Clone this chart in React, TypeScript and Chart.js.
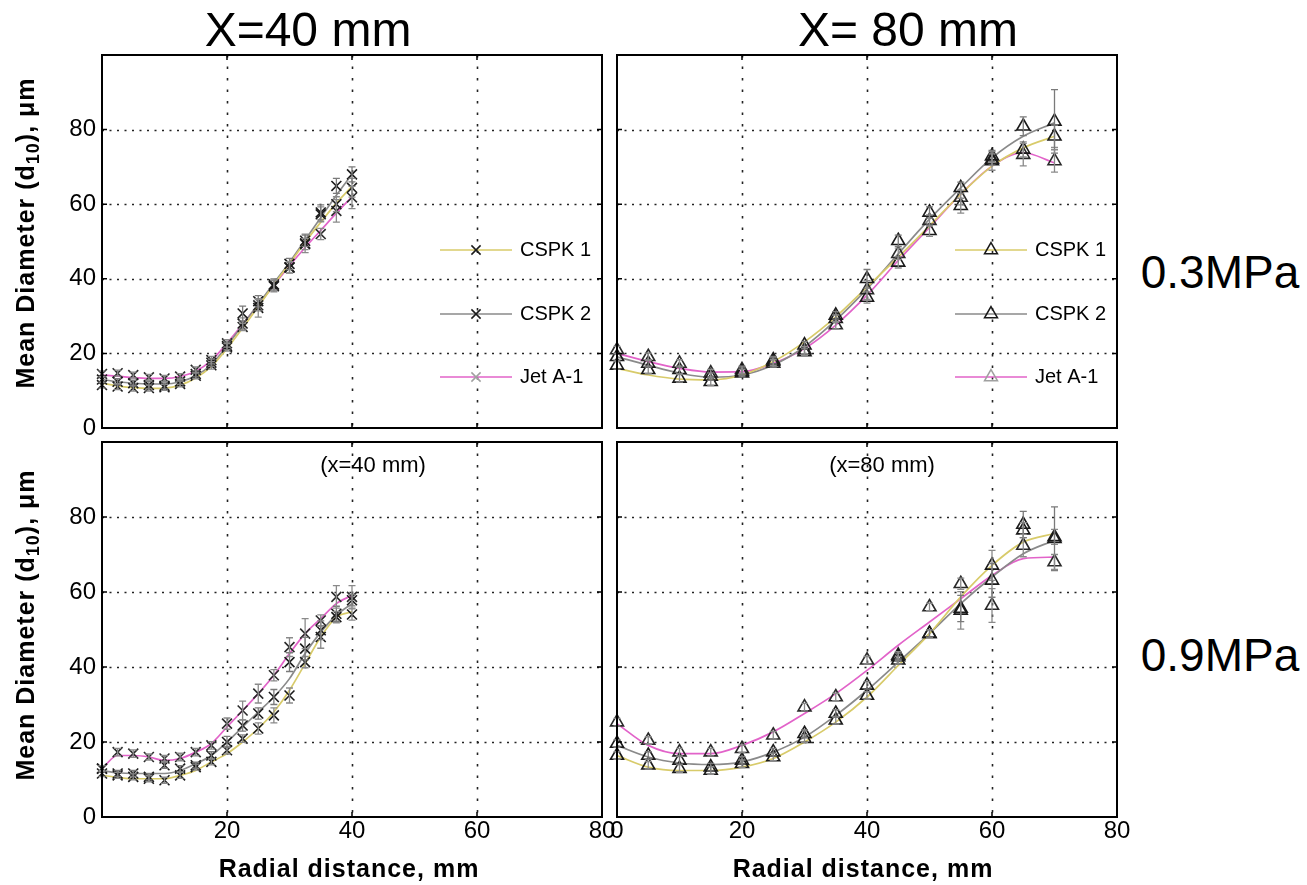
import React, { useEffect, useRef } from "react";
import { Chart, registerables } from "chart.js";
Chart.register(...registerables);

const FONT = '"Liberation Sans", Arial, Helvetica, sans-serif';

// ---------- data ----------
const radial40 = [0, 2.5, 5, 7.5, 10, 12.5, 15, 17.5, 20, 22.5, 25, 27.5, 30, 32.5, 35, 37.5, 40];
const radial80 = [0, 5, 10, 15, 20, 25, 30, 35, 40, 45, 50, 55, 60, 65, 70];
const xTickValues = [0, 20, 40, 60, 80];
const yTickValues = [0, 20, 40, 60, 80, 100];
const seriesNames = ["CSPK 1", "CSPK 2", "Jet A-1"];

// X = 40 mm, 0.3 MPa
const tlFitCspk1 = [12.0, 11.3, 10.8, 10.6, 10.7, 11.5, 13.4, 16.5, 21.3, 26.8, 32.6, 38.4, 44.1, 49.8, 55.2, 60.3, 64.8];
const tlFitCspk2 = [13.0, 12.4, 12.0, 11.8, 11.8, 12.4, 14.0, 17.0, 22.0, 27.6, 33.2, 38.8, 44.4, 50.4, 56.4, 62.4, 68.0];
const tlFitJet = [14.2, 13.9, 13.5, 13.3, 13.3, 13.8, 15.2, 18.1, 22.7, 27.8, 33.0, 38.3, 43.5, 48.4, 53.0, 57.6, 62.0];
const tlCspk1 = [11.5, 11.1, 10.7, 10.7, 10.9, 11.8, 14.0, 16.8, 21.6, 28.0, 32.2, 38.0, 43.0, 49.5, 57.3, 60.0, 64.4];
const tlCspk2 = [13.0, 12.4, 12.0, 11.5, 11.3, 12.5, 14.5, 17.5, 22.0, 30.7, 34.0, 38.5, 44.0, 50.2, 57.8, 64.9, 68.0];
const tlJet = [14.5, 14.7, 14.2, 13.6, 13.3, 13.8, 15.6, 18.2, 22.7, 27.1, 32.9, 38.2, 43.1, 49.3, 52.0, 58.2, 61.8];
const tlErrCspk1 = [0.8, 0.8, 0.8, 0.8, 0.8, 0.8, 0.8, 1, 1, 1.5, 2.5, 1.5, 1.5, 2.5, 2, 2, 2.5];
const tlErrCspk2 = [0.8, 0.8, 0.8, 1, 0.8, 0.8, 0.8, 1, 1, 2, 1.5, 1.5, 1.5, 1.5, 2, 2, 2];
const tlErrJet = [0.8, 0.8, 0.8, 0.8, 0.8, 0.8, 0.8, 1, 1, 1, 1.5, 1.5, 1.5, 1.5, 1.5, 3, 3];

// X = 80 mm, 0.3 MPa
const trFitCspk1 = [16.0, 14.2, 13.1, 12.9, 14.2, 17.8, 23.1, 29.8, 37.8, 45.8, 54.2, 62.7, 70.2, 75.1, 78.2];
const trFitCspk2 = [19.1, 16.8, 14.7, 13.6, 14.2, 16.9, 21.8, 28.9, 37.3, 46.7, 56.0, 64.4, 72.4, 78.2, 81.8];
const trFitJet = [20.0, 17.8, 16.0, 15.0, 15.1, 17.3, 21.3, 27.6, 35.6, 44.9, 53.8, 62.7, 70.2, 73.8, 71.1];
const trCspk1 = [16.8, 15.6, 13.3, 12.4, 14.7, 17.8, 20.4, 29.3, 35.0, 44.4, 52.9, 59.6, 71.6, 74.7, 78.2];
const trCspk2 = [19.1, 17.3, 15.6, 13.8, 15.1, 18.2, 22.2, 30.2, 40.0, 50.2, 57.8, 64.4, 72.9, 80.9, 82.2];
const trJet = [20.9, 19.1, 17.3, 14.7, 15.6, 17.3, 20.9, 27.6, 37.0, 46.7, 55.6, 61.8, 72.0, 73.3, 71.6];
const trErrCspk1 = [1, 1, 1, 1, 1, 1, 1, 1, 1.5, 1.5, 1.5, 2, 2.5, 2, 3];
const trErrCspk2 = [1, 1, 1, 1, 1, 1, 1, 1, 2.5, 1.5, 1.5, 1.5, 1.5, 2.5, 8.5];
const trErrJet = [1, 1, 1, 1, 1, 1, 1, 1, 2.5, 1.5, 1.5, 2, 1.5, 3, 3];

// X = 40 mm, 0.9 MPa
const blFitCspk1 = [11.1, 10.6, 10.2, 10.2, 10.2, 11.1, 12.4, 14.7, 16.9, 20.0, 23.6, 28.0, 33.8, 40.9, 48.0, 53.3, 54.7];
const blFitCspk2 = [12.4, 11.8, 11.6, 11.6, 11.6, 12.4, 14.2, 16.4, 20.0, 24.0, 28.0, 32.0, 36.9, 43.6, 49.3, 53.8, 56.9];
const blFitJet = [12.9, 16.4, 16.4, 16.0, 15.1, 15.6, 17.3, 19.6, 24.0, 28.4, 32.9, 37.8, 43.6, 48.9, 52.9, 56.9, 59.1];
const blCspk1 = [11.6, 11.1, 10.7, 10.2, 9.8, 11.1, 13.3, 14.7, 17.8, 20.9, 23.6, 27.1, 32.4, 41.3, 48.0, 53.3, 54.0];
const blCspk2 = [12.9, 11.6, 11.6, 10.7, 13.8, 12.9, 13.8, 16.4, 20.0, 24.4, 27.6, 32.0, 41.3, 44.9, 49.8, 54.2, 57.8];
const blJet = [12.9, 17.3, 16.9, 16.0, 15.6, 16.0, 17.3, 19.1, 24.9, 28.4, 32.9, 37.8, 45.3, 48.9, 52.4, 58.7, 58.7];
const blErrCspk1 = [0.8, 0.8, 0.8, 0.8, 0.8, 0.8, 0.8, 0.8, 1, 1, 1.5, 2, 2, 1.5, 3, 1.5, 1.5];
const blErrCspk2 = [0.8, 0.8, 0.8, 0.8, 0.8, 0.8, 0.8, 1, 1.5, 1.5, 1.5, 2, 2.5, 3, 2.5, 2, 1.5];
const blErrJet = [0.8, 1, 1, 0.8, 0.8, 1, 1, 1, 1.5, 2.5, 2.5, 1.5, 2.5, 4, 1.5, 3, 3];

// X = 80 mm, 0.9 MPa
const brFitCspk1 = [16.4, 13.3, 12.4, 12.4, 13.3, 15.6, 20.0, 25.3, 32.0, 40.4, 48.9, 58.7, 67.1, 73.3, 75.6];
const brFitCspk2 = [19.1, 16.0, 14.4, 14.0, 14.7, 17.3, 21.3, 27.1, 33.8, 41.3, 48.9, 56.9, 64.0, 70.2, 73.8];
const brFitJet = [24.9, 19.1, 16.9, 16.9, 19.1, 22.7, 27.6, 32.9, 39.1, 45.8, 52.0, 58.2, 64.4, 68.9, 69.3];
const brCspk1 = [16.4, 13.8, 12.9, 12.4, 14.2, 16.0, 20.9, 25.8, 32.4, 41.8, 48.9, 55.1, 67.1, 76.5, 74.7];
const brCspk2 = [19.6, 16.4, 15.1, 13.3, 15.1, 17.3, 22.2, 27.6, 35.1, 42.7, 48.9, 55.6, 63.1, 78.0, 74.2];
const brJet = [25.3, 20.4, 17.3, 17.3, 18.2, 21.8, 29.3, 32.0, 41.8, 43.1, 56.0, 62.2, 56.4, 72.4, 68.0];
const brErrCspk1 = [1, 1, 1, 1, 1, 1, 1, 1, 1, 1, 1, 5, 4, 2, 2];
const brErrCspk2 = [1, 1, 1, 1, 1, 1, 1, 1, 1, 1, 1, 3.5, 4.5, 3.5, 8.5];
const brErrJet = [1, 1, 1, 1, 1, 1, 1, 1, 1, 1, 1, 1.5, 4.5, 3, 2];

// ---------- styles ----------
const lineColors = ["#d8cb6a", "#8a8a8a", "#e263c9"];
const markerColors = ["#1a1a1a", "#1a1a1a", "#2a2a2a"];
const legendMarkerColors = ["#1a1a1a", "#1a1a1a", "#a0a0a0"];
const errorColors = ["#8a8a8a", "#7a7a7a", "#8a8a8a"];

const gridPlugin = {
  id: "dottedGrid",
  beforeDatasetsDraw(chart: any) {
    const { ctx, chartArea: a, scales } = chart;
    ctx.save();
    ctx.strokeStyle = "#222";
    ctx.lineWidth = 1.6;
    const xs = scales.x;
    ctx.setLineDash([2.5, 9]);
    xs.ticks.forEach((t: any) => {
      if (t.value <= xs.min || t.value >= xs.max) return;
      const px = Math.round(xs.getPixelForValue(t.value)) + 0.5;
      ctx.beginPath();
      ctx.moveTo(px, a.top);
      ctx.lineTo(px, a.bottom);
      ctx.stroke();
    });
    const ys = scales.y;
    ctx.setLineDash([2, 5.5]);
    ys.ticks.forEach((t: any) => {
      if (t.value <= ys.min || t.value >= ys.max) return;
      const py = Math.round(ys.getPixelForValue(t.value)) + 0.5;
      ctx.beginPath();
      ctx.moveTo(a.left, py);
      ctx.lineTo(a.right, py);
      ctx.stroke();
    });
    ctx.restore();
  },
};

const errorBarPlugin = {
  id: "errorBars",
  afterDatasetsDraw(chart: any) {
    const { ctx, scales } = chart;
    chart.data.datasets.forEach((ds: any) => {
      if (!ds.errors) return;
      ctx.save();
      ctx.strokeStyle = ds.errorColor;
      ctx.lineWidth = 1.3;
      ds.data.forEach((p: any, j: number) => {
        const e = ds.errors[j];
        if (!e) return;
        const px = scales.x.getPixelForValue(p.x);
        const y1 = scales.y.getPixelForValue(p.y - e);
        const y2 = scales.y.getPixelForValue(p.y + e);
        ctx.beginPath();
        ctx.moveTo(px, y1);
        ctx.lineTo(px, y2);
        ctx.moveTo(px - 3.5, y1);
        ctx.lineTo(px + 3.5, y1);
        ctx.moveTo(px - 3.5, y2);
        ctx.lineTo(px + 3.5, y2);
        ctx.stroke();
      });
      ctx.restore();
    });
  },
};

function drawMarker(ctx: any, style: string, x: number, y: number, r: number, color: string) {
  ctx.save();
  ctx.strokeStyle = color;
  ctx.lineWidth = 1.5;
  ctx.beginPath();
  if (style === "triangle") {
    const side = (r * 3) / Math.sqrt(3);
    const h = (side * Math.sqrt(3)) / 2;
    ctx.moveTo(x, y - (2 * h) / 3);
    ctx.lineTo(x + side / 2, y + h / 3);
    ctx.lineTo(x - side / 2, y + h / 3);
    ctx.closePath();
  } else {
    const d = r * 0.7071;
    ctx.moveTo(x - d, y - d);
    ctx.lineTo(x + d, y + d);
    ctx.moveTo(x + d, y - d);
    ctx.lineTo(x - d, y + d);
  }
  ctx.stroke();
  ctx.restore();
}

const framePlugin = {
  id: "frame",
  afterDraw(chart: any) {
    const { ctx, chartArea: a, scales } = chart;
    const opts = chart.options.plugins.frame || {};
    ctx.save();
    ctx.strokeStyle = "#000";
    ctx.lineWidth = 2;
    ctx.setLineDash([]);
    ctx.strokeRect(a.left, a.top, a.right - a.left, a.bottom - a.top);
    ctx.lineWidth = 1.5;
    const tl = 5;
    scales.x.ticks.forEach((t: any) => {
      const px = scales.x.getPixelForValue(t.value);
      ctx.beginPath();
      ctx.moveTo(px, a.bottom);
      ctx.lineTo(px, a.bottom - tl);
      ctx.moveTo(px, a.top);
      ctx.lineTo(px, a.top + tl);
      ctx.stroke();
    });
    scales.y.ticks.forEach((t: any) => {
      const py = scales.y.getPixelForValue(t.value);
      ctx.beginPath();
      ctx.moveTo(a.left, py);
      ctx.lineTo(a.left + tl, py);
      ctx.moveTo(a.right, py);
      ctx.lineTo(a.right - tl, py);
      ctx.stroke();
    });

    // legend inside the axes
    if (opts.legend) {
      const rows = [195, 259, 322];
      seriesNames.forEach((name, i) => {
        const yy = a.top + rows[i];
        ctx.strokeStyle = lineColors[i];
        ctx.lineWidth = 1.6;
        ctx.beginPath();
        ctx.moveTo(a.left + 338, yy);
        ctx.lineTo(a.left + 410, yy);
        ctx.stroke();
        drawMarker(ctx, opts.marker, a.left + 374, yy, opts.marker === "triangle" ? 7.5 : 6.5, legendMarkerColors[i]);
        ctx.fillStyle = "#000";
        ctx.font = `20px ${FONT}`;
        ctx.textBaseline = "middle";
        ctx.textAlign = "left";
        ctx.fillText(name, a.left + 418, yy);
      });
    }
    if (opts.note) {
      ctx.fillStyle = "#000";
      ctx.font = `22px ${FONT}`;
      ctx.textBaseline = "middle";
      ctx.textAlign = "center";
      ctx.fillText(opts.note, a.left + opts.noteX, a.top + 24);
    }
    ctx.restore();
  },
};

type PanelProps = {
  left: number;
  top: number;
  areaHeight: number;
  radial: number[];
  fits: number[][];
  points: number[][];
  errors: number[][];
  marker: string;
  showX: boolean;
  hideXZero: boolean;
  showY: boolean;
  legend: boolean;
  note?: string;
  noteX?: number;
};

const Y_AXIS_W = 100;
const X_AXIS_H = 45;
const PAD_TOP = 22;
const PAD_RIGHT = 20;
const AREA_W = 500;

function Panel(p: PanelProps) {
  const ref = useRef<HTMLCanvasElement | null>(null);
  const width = Y_AXIS_W + AREA_W + PAD_RIGHT;
  const height = PAD_TOP + p.areaHeight + X_AXIS_H;

  useEffect(() => {
    if (!ref.current) return;
    const datasets: any[] = [];
    seriesNames.forEach((name, i) => {
      datasets.push({
        label: name + " fit",
        data: p.radial.map((x, j) => ({ x, y: p.fits[i][j] })),
        showLine: true,
        borderColor: lineColors[i],
        borderWidth: 1.7,
        pointRadius: 0,
        cubicInterpolationMode: "monotone",
        order: 2,
      });
      datasets.push({
        label: name,
        data: p.radial.map((x, j) => ({ x, y: p.points[i][j] })),
        showLine: false,
        pointStyle: p.marker,
        pointRadius: p.marker === "triangle" ? 7.5 : 7,
        pointBorderWidth: 1.6,
        pointBorderColor: markerColors[i],
        pointBackgroundColor: "rgba(0,0,0,0)",
        borderColor: markerColors[i],
        backgroundColor: "rgba(0,0,0,0)",
        clip: false,
        order: 1,
        errors: p.errors[i],
        errorColor: errorColors[i],
      });
    });

    const chart = new Chart(ref.current, {
      type: "scatter",
      data: { datasets },
      plugins: [gridPlugin, errorBarPlugin, framePlugin],
      options: {
        responsive: false,
        maintainAspectRatio: false,
        animation: false,
        devicePixelRatio: 1,
        layout: { padding: { top: PAD_TOP, right: PAD_RIGHT, left: 0, bottom: 0 } },
        plugins: {
          legend: { display: false },
          tooltip: { enabled: false },
          frame: { legend: p.legend, marker: p.marker, note: p.note, noteX: p.noteX },
        } as any,
        scales: {
          x: {
            type: "linear",
            min: 0,
            max: 80,
            afterBuildTicks: (s: any) => {
              s.ticks = xTickValues.map((v) => ({ value: v }));
            },
            afterFit: (s: any) => {
              s.height = X_AXIS_H;
            },
            grid: { display: false, drawTicks: false },
            border: { display: false },
            ticks: {
              display: p.showX,
              autoSkip: false,
              maxRotation: 0,
              padding: 0,
              color: "#000",
              font: { family: FONT, size: 24 },
              callback: (v: any) => (p.hideXZero && v === 0 ? "" : String(v)),
            },
          },
          y: {
            type: "linear",
            min: 0,
            max: 100,
            afterBuildTicks: (s: any) => {
              s.ticks = yTickValues.map((v) => ({ value: v }));
            },
            afterFit: (s: any) => {
              s.width = Y_AXIS_W;
            },
            grid: { display: false, drawTicks: false },
            border: { display: false },
            ticks: {
              display: p.showY,
              autoSkip: false,
              padding: 6,
              color: "#000",
              font: { family: FONT, size: 24 },
              callback: (v: any) => (v === 100 ? "" : String(v)),
            },
          },
        },
      } as any,
    });
    return () => chart.destroy();
  }, []);

  return (
    <canvas
      ref={ref}
      width={width}
      height={height}
      style={{ position: "absolute", left: p.left - Y_AXIS_W, top: p.top - PAD_TOP, width, height }}
    />
  );
}

const textBase: React.CSSProperties = {
  position: "absolute",
  fontFamily: FONT,
  color: "#000",
  whiteSpace: "nowrap",
  lineHeight: 1,
  transform: "translate(-50%, -50%)",
};

function YTitle({ cy }: { cy: number }) {
  return (
    <div
      style={{
        ...textBase,
        left: 25,
        top: cy,
        fontWeight: "bold",
        fontSize: 25,
        letterSpacing: 1,
        transform: "translate(-50%, -50%) rotate(-90deg)",
      }}
    >
      Mean Diameter (d<sub style={{ fontSize: "0.72em", verticalAlign: "-0.3em", lineHeight: 0 }}>10</sub>), μm
    </div>
  );
}

export default function App() {
  return (
    <div
      style={{
        position: "absolute",
        left: 0,
        top: 0,
        width: 1307,
        height: 885,
        background: "#fff",
        overflow: "hidden",
      }}
    >
      <Panel
        left={102}
        top={55}
        areaHeight={373}
        radial={radial40}
        fits={[tlFitCspk1, tlFitCspk2, tlFitJet]}
        points={[tlCspk1, tlCspk2, tlJet]}
        errors={[tlErrCspk1, tlErrCspk2, tlErrJet]}
        marker="crossRot"
        showX={false}
        hideXZero={false}
        showY={true}
        legend={true}
      />
      <Panel
        left={617}
        top={55}
        areaHeight={373}
        radial={radial80}
        fits={[trFitCspk1, trFitCspk2, trFitJet]}
        points={[trCspk1, trCspk2, trJet]}
        errors={[trErrCspk1, trErrCspk2, trErrJet]}
        marker="triangle"
        showX={false}
        hideXZero={false}
        showY={false}
        legend={true}
      />
      <Panel
        left={102}
        top={442}
        areaHeight={375}
        radial={radial40}
        fits={[blFitCspk1, blFitCspk2, blFitJet]}
        points={[blCspk1, blCspk2, blJet]}
        errors={[blErrCspk1, blErrCspk2, blErrJet]}
        marker="crossRot"
        showX={true}
        hideXZero={true}
        showY={true}
        legend={false}
        note="(x=40 mm)"
        noteX={271}
      />
      <Panel
        left={617}
        top={442}
        areaHeight={375}
        radial={radial80}
        fits={[brFitCspk1, brFitCspk2, brFitJet]}
        points={[brCspk1, brCspk2, brJet]}
        errors={[brErrCspk1, brErrCspk2, brErrJet]}
        marker="triangle"
        showX={true}
        hideXZero={false}
        showY={false}
        legend={false}
        note="(x=80 mm)"
        noteX={265}
      />

      <div style={{ ...textBase, left: 308, top: 30, fontSize: 48 }}>X=40 mm</div>
      <div style={{ ...textBase, left: 908, top: 30, fontSize: 48 }}>X= 80 mm</div>
      <div style={{ ...textBase, left: 1220, top: 272, fontSize: 46 }}>0.3MPa</div>
      <div style={{ ...textBase, left: 1220, top: 655, fontSize: 46 }}>0.9MPa</div>

      <YTitle cy={233} />
      <YTitle cy={625} />

      <div style={{ ...textBase, left: 349, top: 868, fontSize: 25, fontWeight: "bold", letterSpacing: 1 }}>
        Radial distance, mm
      </div>
      <div style={{ ...textBase, left: 863, top: 868, fontSize: 25, fontWeight: "bold", letterSpacing: 1 }}>
        Radial distance, mm
      </div>
    </div>
  );
}
